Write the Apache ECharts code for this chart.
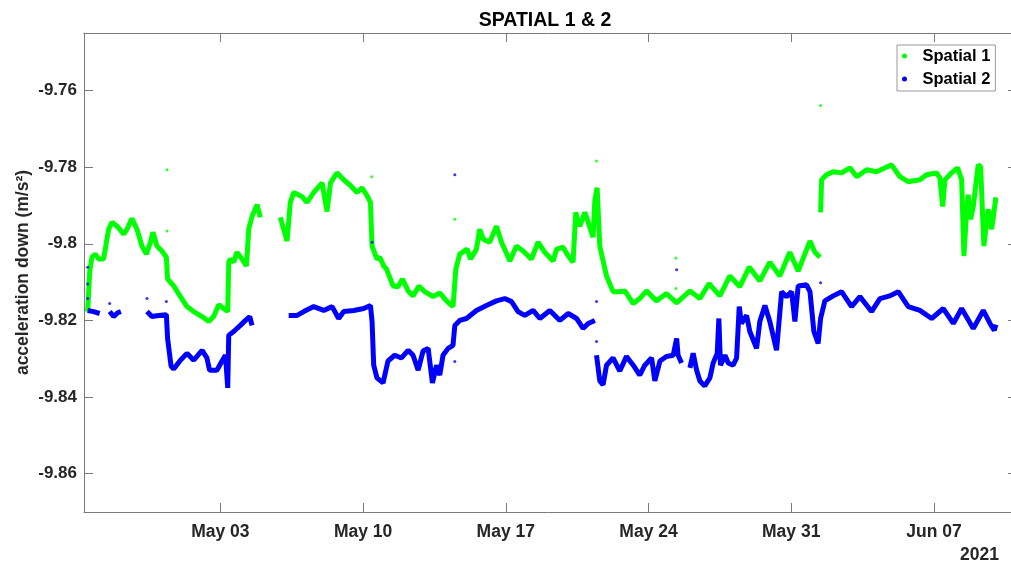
<!DOCTYPE html>
<html>
<head>
<meta charset="utf-8">
<title>SPATIAL 1 & 2</title>
<script src="https://cdn.jsdelivr.net/npm/echarts@6/dist/echarts.min.js"></script>
<style>
    html, body { margin: 0; padding: 0; background: #fff; }
    #main { width: 1011px; height: 566px; }
</style>
</head>
<body>
<div id="main"></div>
<script>
// x values are "day of May 2021" (Apr 26 = -4, Jun 07 = 38), y in m/s^2
// null = gap in the record
var s1Day = [-3.51, -3.41, -3.30, -3.13, -2.97, -2.73, -2.59, -2.48, -2.32, -2.07, -1.74, -1.58, -1.34, -1.09, -0.85, -0.63, -0.43, -0.31, -0.11, 0.13,
    0.35, 0.41, 0.71, 1.04, 1.36, 1.69, 2.10, 2.43, 2.67, 2.92, 3.16, 3.36, 3.41, 3.49, 3.65, 3.81, 4.06, 4.28, 4.39, 4.55, 4.80, 4.96, null,
    5.94, 6.27, 6.43, 6.60, 7.00, 7.25, 7.58, 7.99, 8.23, 8.40, 8.72, 9.05, 9.38, 9.70, 9.95, 10.19, 10.36, 10.44, 10.68, 10.82, 11.01,
    11.15, 11.47, 11.71, 11.93, 12.21, 12.45, 12.74, 13.02, 13.43, 13.76, 14.09, 14.41, 14.55, 14.74, 15.10, 15.27, 15.56, 15.72, 15.89,
    16.21, 16.54, 16.79, 17.20, 17.52, 17.85, 18.26, 18.58, 18.91, 19.32, 19.49, 19.81, 20.06, 20.30, 20.43, 20.63, 20.88, 21.28, 21.37,
    21.48, 21.61, 21.94, 22.26, 22.59, 22.84, 23.25, 23.57, 23.90, 24.39, 24.88, 25.38, 26.03, 26.52, 26.97, 27.50, 27.99, 28.48, 28.94,
    29.46, 29.95, 30.44, 30.93, 31.34, 31.92, 32.16, 32.41, null, 32.44, 32.49, 32.73, 33.06, 33.47, 33.88, 34.21, 34.70, 35.19, 35.92,
    36.33, 36.74, 37.31, 37.64, 38.13, 38.29, 38.43, 38.54, 38.87, 39.16, 39.36, 39.47, 39.60, 39.68, 39.80, 39.93, 40.17, 40.29, 40.45,
    40.66, 40.83, 41.04];
var s1Val = [-9.8177, -9.8073, -9.8035, -9.8027, -9.8040, -9.8040, -9.7996, -9.7962, -9.7944, -9.7954, -9.7975, -9.7962, -9.7934, -9.7962, -9.8006, -9.8027, -9.7996, -9.7970, -9.8006, -9.8019,
    -9.8035, -9.8092, -9.8110, -9.8138, -9.8164, -9.8177, -9.8190, -9.8203, -9.8190, -9.8159, -9.8169, -9.8177, -9.8048, -9.8040, -9.8048, -9.8022, -9.8040, -9.8058, -9.7962, -9.7929, -9.7898, -9.7931, null,
    -9.7931, -9.7993, -9.7892, -9.7866, -9.7877, -9.7892, -9.7866, -9.7841, -9.7916, -9.7841, -9.7815, -9.7833, -9.7848, -9.7866, -9.7854, -9.7874, -9.7892, -9.8006, -9.8040, -9.8035, -9.8058,
    -9.8066, -9.8110, -9.8112, -9.8092, -9.8123, -9.8136, -9.8110, -9.8125, -9.8138, -9.8128, -9.8149, -9.8164, -9.8066, -9.8027, -9.8014, -9.8040, -9.8014, -9.7962, -9.7988,
    -9.7996, -9.7954, -9.7996, -9.8045, -9.8006, -9.8019, -9.8040, -9.7996, -9.8022, -9.8045, -9.8014, -9.8009, -9.8032, -9.8048, -9.7918, -9.7954, -9.7918, -9.7983, -9.7885,
    -9.7854, -9.8006, -9.8084, -9.8125, -9.8125, -9.8123, -9.8156, -9.8143, -9.8123, -9.8149, -9.8130, -9.8154, -9.8123, -9.8143, -9.8104, -9.8136, -9.8084, -9.8112, -9.8061,
    -9.8097, -9.8048, -9.8084, -9.8022, -9.8071, -9.7993, -9.8022, -9.8035, null, -9.7918, -9.7833, -9.7820, -9.7812, -9.7815, -9.7802, -9.7825, -9.7807, -9.7812, -9.7794,
    -9.7825, -9.7838, -9.7833, -9.7820, -9.7815, -9.7828, -9.7903, -9.7833, -9.7815, -9.7802, -9.7833, -9.8032, -9.7918, -9.7872, -9.7936, -9.7903, -9.7794, -9.7799, -9.8006,
    -9.7910, -9.7962, -9.7879];

// stray single samples of Spatial 1
var s1DotDay = [0.38, 0.38, 10.42, 14.50, 21.45, 25.34, 25.34, 32.44];
var s1DotVal = [-9.7807, -9.7967, -9.7825, -9.7936, -9.7784, -9.8037, -9.8117, -9.7639];

var s2Day = [-3.51, -3.22, -2.92, null, -2.43, -2.24, -2.04, -1.88, null, -0.60, -0.36, -0.03, 0.35, 0.41, 0.58, 0.71, 1.04, 1.36, 1.69, 2.10,
    2.34, 2.47, 2.83, 3.08, 3.25, 3.36, 3.41, 3.65, 3.98, 4.23, 4.44, 4.55, null,
    6.35, 6.76, 7.09, 7.58, 8.07, 8.48, 8.80, 9.05, 9.54, 10.03, 10.36, 10.44, 10.52, 10.68, 10.98, 11.22, 11.55, 11.88, 12.21, 12.45,
    12.70, 12.94, 13.19, 13.40, 13.60, 13.76, 13.92, 14.17, 14.41, 14.50, 14.74, 15.07, 15.56, 16.05, 16.54, 16.95, 17.28, 17.60, 17.93,
    18.34, 18.67, 19.16, 19.65, 20.06, 20.47, 20.79, 21.04, 21.37, null,
    21.45, 21.61, 21.77, 21.94, 22.26, 22.59, 22.92, 23.25, 23.57, 23.82, 24.15, 24.31, 24.56, 24.88, 25.21, 25.38, 25.45, 25.62, null,
    26.03, 26.19, 26.36, 26.52, 26.76, 27.01, 27.17, 27.37, 27.45, 27.53, 27.75, 27.91, 28.15, 28.32, 28.45, 28.56, 28.81, 28.97, 29.30,
    29.46, 29.71, 29.95, 30.28, 30.53, 30.77, 31.02, 31.18, 31.34, 31.75, 31.92, 32.11, 32.32, 32.44, 32.65, 33.06, 33.47, 33.96, 34.37,
    34.94, 35.35, 35.84, 36.25, 36.74, 37.31, 37.89, 38.46, 38.95, 39.36, 39.93, 40.42, 40.75, 40.96, 41.04];
var s2Val = [-9.8174, -9.8177, -9.8182, null, -9.8177, -9.8190, -9.8180, -9.8177, null, -9.8177, -9.8190, -9.8187, -9.8185, -9.8247, -9.8319, -9.8327, -9.8304, -9.8286, -9.8304, -9.8278,
    -9.8298, -9.8330, -9.8330, -9.8306, -9.8291, -9.8376, -9.8239, -9.8229, -9.8213, -9.8200, -9.8190, -9.8213, null,
    -9.8187, -9.8187, -9.8177, -9.8164, -9.8174, -9.8164, -9.8195, -9.8177, -9.8174, -9.8169, -9.8161, -9.8203, -9.8317, -9.8350, -9.8363, -9.8306, -9.8291, -9.8298, -9.8278, -9.8291,
    -9.8330, -9.8280, -9.8273, -9.8363, -9.8317, -9.8343, -9.8291, -9.8273, -9.8265, -9.8213, -9.8200, -9.8195, -9.8174, -9.8161, -9.8149, -9.8143, -9.8151, -9.8177, -9.8187,
    -9.8174, -9.8195, -9.8174, -9.8200, -9.8182, -9.8195, -9.8221, -9.8208, -9.8200, null,
    -9.8291, -9.8358, -9.8368, -9.8317, -9.8298, -9.8332, -9.8294, -9.8317, -9.8343, -9.8317, -9.8298, -9.8358, -9.8306, -9.8294, -9.8291, -9.8247, -9.8291, -9.8311, null,
    -9.8324, -9.8286, -9.8330, -9.8358, -9.8371, -9.8350, -9.8311, -9.8286, -9.8195, -9.8317, -9.8291, -9.8311, -9.8317, -9.8298, -9.8164, -9.8208, -9.8187, -9.8229, -9.8273,
    -9.8203, -9.8161, -9.8203, -9.8278, -9.8125, -9.8138, -9.8125, -9.8203, -9.8110, -9.8107, -9.8125, -9.8229, -9.8260, -9.8195, -9.8149, -9.8136, -9.8125, -9.8164, -9.8138,
    -9.8177, -9.8143, -9.8136, -9.8125, -9.8164, -9.8174, -9.8195, -9.8169, -9.8208, -9.8169, -9.8221, -9.8174, -9.8208, -9.8226, -9.8211];

// stray single samples of Spatial 2
var s2DotDay = [-3.51, -3.51, -3.51, -2.43, -0.60, 0.35, 10.44, 14.50, 14.50, 21.45, 21.45, 25.38, 32.44];
var s2DotVal = [-9.8061, -9.8105, -9.8143, -9.8156, -9.8143, -9.8151, -9.7996, -9.7820, -9.8307, -9.8151, -9.8255, -9.8068, -9.8102];

var dayTicks = [3, 10, 17, 24, 31, 38];
var accTicks = [-9.86, -9.84, -9.82, -9.80, -9.78, -9.76];

var FONT = 'Liberation Sans, Arial, sans-serif';
var AXIS_GRAY = '#7a7a7a';
var TXT = '#262626';

function pairs(xs, ys) {
    var out = [];
    for (var i = 0; i < xs.length; i++) {
        if (xs[i] === null || ys[i] === null) {
            out.push(['-', '-']);
        } else {
            out.push([xs[i], ys[i]]);
        }
    }
    return out;
}

function dayLabel(v) {
    var d = Math.round(v);
    var mon = 'May';
    if (d > 31) {
        d = d - 31;
        mon = 'Jun';
    }
    return mon + ' ' + (d < 10 ? '0' + d : d);
}

function accLabel(v) {
    var s = v.toFixed(2);
    // matlab drops the trailing zero
    if (s.charAt(s.length - 1) === '0') s = s.substring(0, s.length - 1);
    return s;
}

var chart = echarts.init(document.getElementById('main'), null, {renderer: 'canvas'});

// the plot box runs off the right edge of the picture, so the x range ends early
var xBase = {
    type: 'value',
    min: -3.69,
    max: 41.78,
    splitLine: {show: false},
    axisLine: {show: true, onZero: false, lineStyle: {color: AXIS_GRAY, width: 1}},
    axisTick: {show: true, inside: true, length: 9, customValues: dayTicks, lineStyle: {color: AXIS_GRAY}},
    axisLabel: {show: false}
};
var yBase = {
    type: 'value',
    min: -9.87,
    max: -9.745,
    splitLine: {show: false},
    axisLine: {show: true, onZero: false, lineStyle: {color: AXIS_GRAY, width: 1}},
    axisTick: {show: true, inside: true, length: 9, customValues: accTicks, lineStyle: {color: AXIS_GRAY}},
    axisLabel: {show: false}
};

var option = {
    animation: false,
    backgroundColor: '#ffffff',
    title: {
        text: 'SPATIAL 1 & 2',
        left: 540,
        top: 6,
        textAlign: 'center',
        textStyle: {fontFamily: FONT, fontSize: 19.5, fontWeight: 'bold', color: '#000'}
    },
    legend: {
        data: ['Spatial 1', 'Spatial 2'],
        orient: 'vertical',
        left: 897,
        top: 45,
        icon: 'circle',
        itemWidth: 26,
        itemHeight: 5,
        itemGap: 3,
        padding: [1, 5, 2, 5],
        borderColor: '#9a9a9a',
        borderWidth: 1,
        backgroundColor: '#fff',
        textStyle: {fontFamily: FONT, fontSize: 16.5, fontWeight: 'bold', color: '#000', lineHeight: 20}
    },
    grid: {left: 84, right: 0, top: 33, bottom: 54, containLabel: false, outerBoundsMode: 'none'},
    xAxis: [
        echarts.util.merge({
            position: 'bottom',
            axisLabel: {
                show: true, customValues: dayTicks, margin: 11, formatter: dayLabel,
                fontFamily: FONT, fontSize: 17.5, fontWeight: 'bold', color: TXT
            }
        }, xBase),
        echarts.util.merge({position: 'top'}, xBase)
    ],
    yAxis: [
        echarts.util.merge({
            position: 'left',
            name: 'acceleration down (m/s²)',
            nameLocation: 'middle',
            nameGap: 52,
            nameMoveOverlap: false,
            nameTextStyle: {fontFamily: FONT, fontSize: 17.5, fontWeight: 'bold', color: TXT},
            axisLabel: {
                show: true, customValues: accTicks, margin: 7, formatter: accLabel,
                fontFamily: FONT, fontSize: 17, fontWeight: 'bold', color: TXT
            }
        }, yBase),
        echarts.util.merge({
            position: 'right',
            axisLine: {show: false},
            axisTick: {length: 3}
        }, yBase)
    ],
    graphic: [{
        type: 'text',
        right: 12,
        top: 546,
        style: {text: '2021', fontFamily: FONT, fontSize: 17.5, fontWeight: 'bold', fill: TXT}
    }],
    series: [
        {
            name: 'Spatial 1',
            type: 'line',
            data: pairs(s1Day, s1Val),
            showSymbol: false,
            connectNulls: false,
            itemStyle: {color: '#00ff00'},
            lineStyle: {color: '#00ff00', width: 5},
            z: 2
        },
        {
            name: 'Spatial 1',
            type: 'scatter',
            data: pairs(s1DotDay, s1DotVal),
            symbolSize: 3,
            itemStyle: {color: '#00ff00'},
            z: 2
        },
        {
            name: 'Spatial 2',
            type: 'line',
            data: pairs(s2Day, s2Val),
            showSymbol: false,
            connectNulls: false,
            itemStyle: {color: '#0000ff'},
            lineStyle: {color: '#0000ff', width: 5},
            z: 3
        },
        {
            name: 'Spatial 2',
            type: 'scatter',
            data: pairs(s2DotDay, s2DotVal),
            symbolSize: 3,
            itemStyle: {color: '#0000ff'},
            z: 3
        }
    ]
};

chart.setOption(option);
</script>
</body>
</html>
